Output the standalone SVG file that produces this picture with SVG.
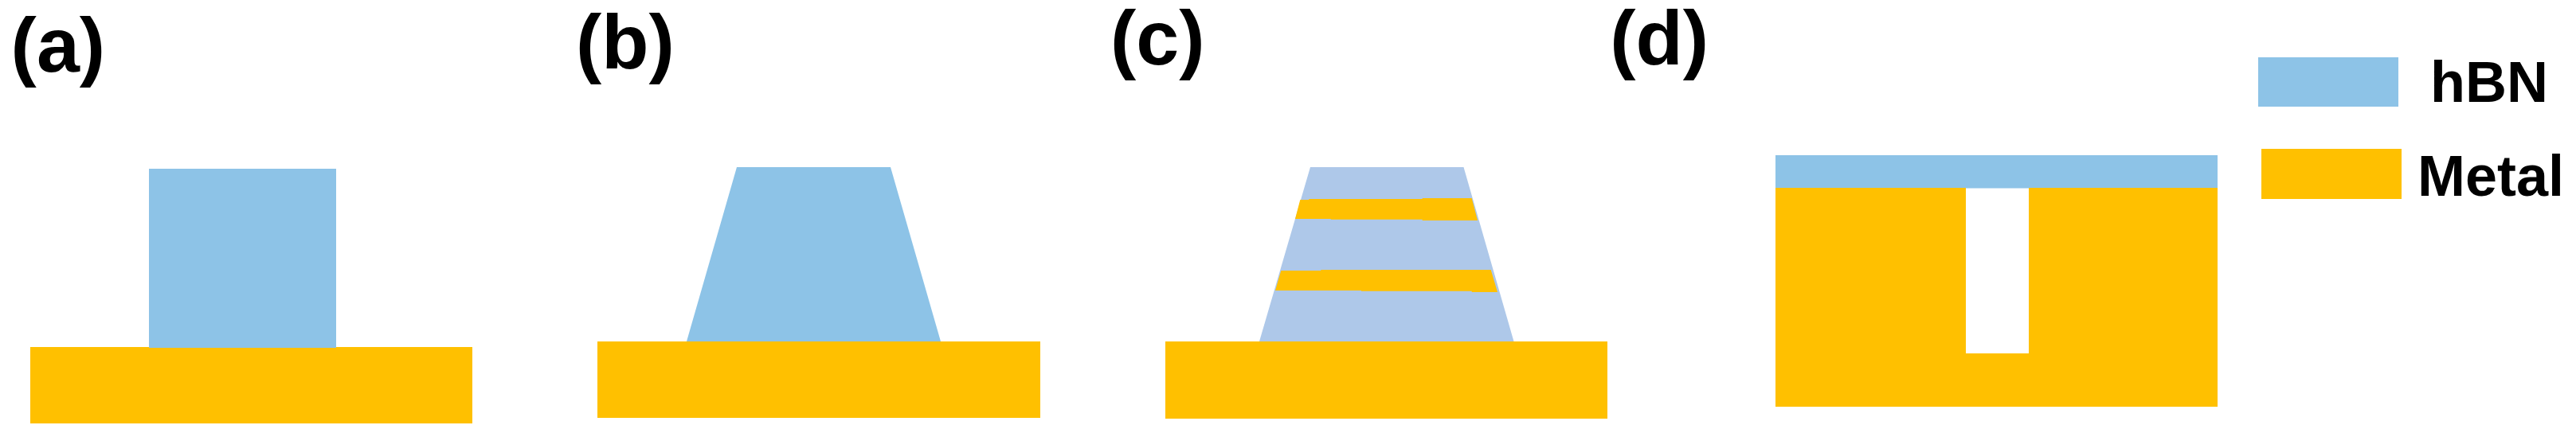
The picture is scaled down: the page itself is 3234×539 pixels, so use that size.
<svg xmlns="http://www.w3.org/2000/svg" width="3234" height="539" viewBox="0 0 3234 539">
<style>
.hbn{fill:#8DC3E7}
.hbn2{fill:#AEC8E9}
.metal{fill:#FFC000}
.lbl{font-family:"Liberation Sans",Arial,sans-serif;font-weight:bold;font-size:97px;fill:#000}
.leg{font-family:"Liberation Sans",Arial,sans-serif;font-weight:bold;font-size:72px;fill:#000}
</style>
<rect width="3234" height="539" fill="#FFFFFF"/>
<g id="panel-a">
<text class="lbl" x="13.6" y="89.6">(a)</text>
<rect class="metal" x="38" y="436" width="555" height="96"/>
<rect class="hbn" x="187" y="212" width="235" height="225"/>
</g>
<g id="panel-b">
<text class="lbl" x="723" y="86.3">(b)</text>
<rect class="metal" x="750" y="429" width="556" height="96"/>
<polygon class="hbn" points="925,210 1118,210 1181,429 862,429"/>
</g>
<g id="panel-c">
<text class="lbl" x="1394" y="81.3">(c)</text>
<rect class="metal" x="1463" y="429" width="555" height="97"/>
<polygon class="hbn2" points="1645,210 1837.5,210 1900.5,429 1581,429"/>
<polygon class="metal" points="1632.3,251 1643.3,251 1643.3,250 1785.7,250 1785.7,249 1847.7,249 1855,277 1785.7,277 1785.7,275.7 1670.7,275.7 1670.7,275 1626,275"/>
<polygon class="metal" points="1608.3,340 1658.3,340 1658.3,339 1871.7,339 1880,367 1847.7,367 1847.7,365.7 1709,365.7 1709,365 1601,365"/>
</g>
<g id="panel-d">
<text class="lbl" x="2021.3" y="81.3">(d)</text>
<rect class="hbn" x="2229" y="195" width="555" height="41.5"/>
<path class="metal" d="M2229,236 H2784 V511 H2229 Z M2468,236 V444 H2547 V236 Z" fill-rule="evenodd"/>
</g>
<g id="legend-hbn">
<rect class="hbn" x="2835" y="72" width="176" height="62"/>
<text class="leg" x="3051" y="128">hBN</text>
</g>
<g id="legend-metal">
<rect class="metal" x="2839" y="187" width="176" height="63"/>
<text class="leg" x="3035" y="246">Metal</text>
</g>
</svg>
